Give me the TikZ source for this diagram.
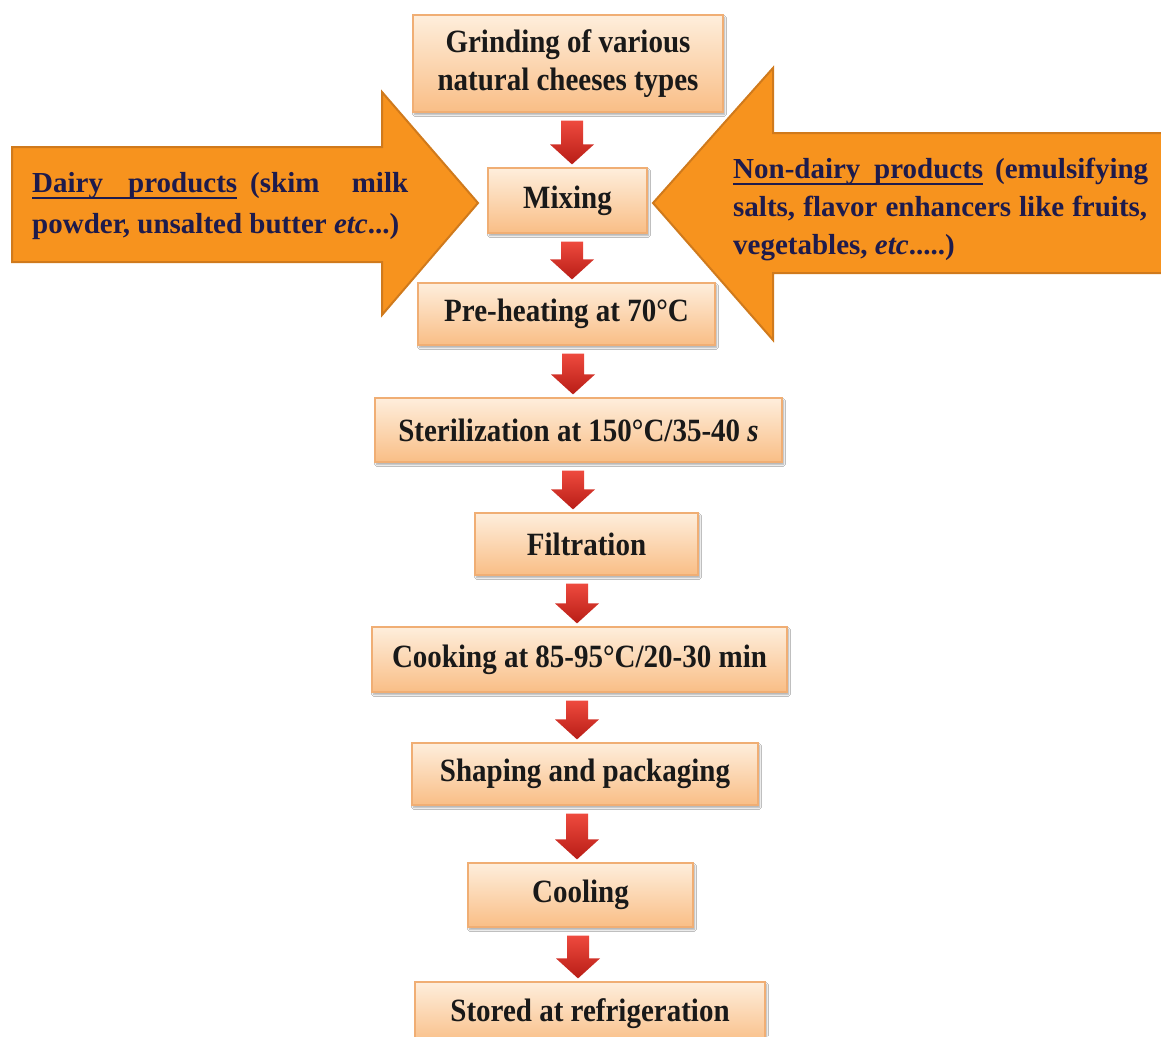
\documentclass[tikz,border=0pt]{standalone}
\usepackage{fontspec}
\usepackage{graphicx}
\setmainfont{Liberation Serif}
\usetikzlibrary{calc,shadows.blur}
\definecolor{boxtop}{HTML}{FEEEDC}
\definecolor{boxbot}{HTML}{F9BE86}
\definecolor{boxline}{HTML}{F0AE74}
\definecolor{bigorange}{HTML}{F7931E}
\definecolor{bigline}{HTML}{D07A1C}
\definecolor{navy}{HTML}{1E1B4C}
\definecolor{arrtop}{HTML}{EE4A3E}
\definecolor{arrbot}{HTML}{B81D16}
\newcommand\ulw[2]{\rlap{\rule[-7pt]{#1}{2pt}}\hbox to #1{#2}}
\newcommand\tx[1]{\scalebox{1}[1.12]{#1}}
\newcommand\redarrow[3]{%
  \shade[redarr] let \p1=(#1.south), \p2=(#2.north) in
   (#3pt-11pt,\y1-8pt) -- (#3pt+11pt,\y1-8pt) -- (#3pt+11pt,\y2+23pt) --
   (#3pt+22pt,\y2+23pt) -- (#3pt,\y2+3pt) -- (#3pt-22pt,\y2+23pt) --
   (#3pt-11pt,\y2+23pt) -- cycle;}
\tikzset{
  box/.style={rectangle, inner sep=0pt, draw=boxline, line width=1.2pt,
    top color=boxtop, bottom color=boxbot,
    blur shadow={shadow xshift=1.5pt, shadow yshift=-2.5pt, shadow opacity=35, shadow blur steps=6},
    font=\fontsize{29}{38}\selectfont\bfseries, text=black!90, align=center},
  bigarrow/.style={fill=bigorange, draw=bigline, line width=2pt, line join=miter},
  bigtext/.style={inner sep=0pt, anchor=base west, text=navy,
    font=\fontsize{29}{38}\selectfont\bfseries},
  redarr/.style={top color=arrtop, bottom color=arrbot, draw=none},
}
\begin{document}
\begin{tikzpicture}[x=1pt,y=-1pt]
\useasboundingbox (0,0) rectangle (1161,1036);
\clip (0,0) rectangle (1161,1036);
\fill[white] (0,0) rectangle (1161,1036);

% big input arrows
\draw[bigarrow] (12,147) -- (382,147) -- (382,92) -- (478,203) -- (382,315) -- (382,262) -- (12,262) -- cycle;
\draw[bigarrow] (1180,133) -- (773,133) -- (773,68) -- (653,203) -- (773,340) -- (773,273) -- (1180,273) -- cycle;

\node[bigtext] (dairy) at (32,192) {\vtop{\baselineskip=41pt
  \hbox to 376pt{\ulw{205pt}{Dairy products}\kern 13pt(skim milk}
  \hbox{powder, unsalted butter \textit{etc}...)}}};
\node[bigtext] (nondairy) at (733,178) {\vtop{\baselineskip=38pt
  \hbox to 415pt{\ulw{250pt}{Non-dairy products}\hskip 10pt plus 1fill (emulsifying}
  \hbox to 414pt{salts, flavor enhancers like fruits,}
  \hbox{vegetables, \textit{etc}.....)}}};

% process boxes
\node[box, minimum width=310pt, minimum height=97pt] (grind) at (568,63.5) {\tx{Grinding of various}\\\tx{natural cheeses types}};
\node[box, minimum width=159pt, minimum height=65pt] (mix) at (567.5,200.5) {\tx{Mixing}};
\node[box, minimum width=297pt, minimum height=62pt] (pre) at (566.5,314) {\tx{Pre-heating at 70°C}};
\node[box, minimum width=407pt, minimum height=64pt] (ster) at (578.5,430) {\tx{Sterilization at 150°C/35-40 \textit{s}}};
\node[box, minimum width=223pt, minimum height=62pt] (filt) at (586.5,544) {\tx{Filtration}};
\node[box, minimum width=415pt, minimum height=65pt] (cook) at (579.5,659.5) {\tx{Cooking at 85-95°C/20-30 min}};
\node[box, minimum width=346pt, minimum height=62pt] (shape) at (585,774) {\tx{Shaping and packaging}};
\node[box, minimum width=225pt, minimum height=64pt] (cool) at (580.5,895) {\tx{Cooling}};
\node[box, minimum width=350pt, minimum height=63pt] (store) at (590,1013.5) {\tx{Stored at refrigeration}};

% red block arrows
\redarrow{grind}{mix}{572}
\redarrow{mix}{pre}{572}
\redarrow{pre}{ster}{573}
\redarrow{ster}{filt}{573}
\redarrow{filt}{cook}{577}
\redarrow{cook}{shape}{577}
\redarrow{shape}{cool}{577}
\redarrow{cool}{store}{578}
\end{tikzpicture}
\end{document}
